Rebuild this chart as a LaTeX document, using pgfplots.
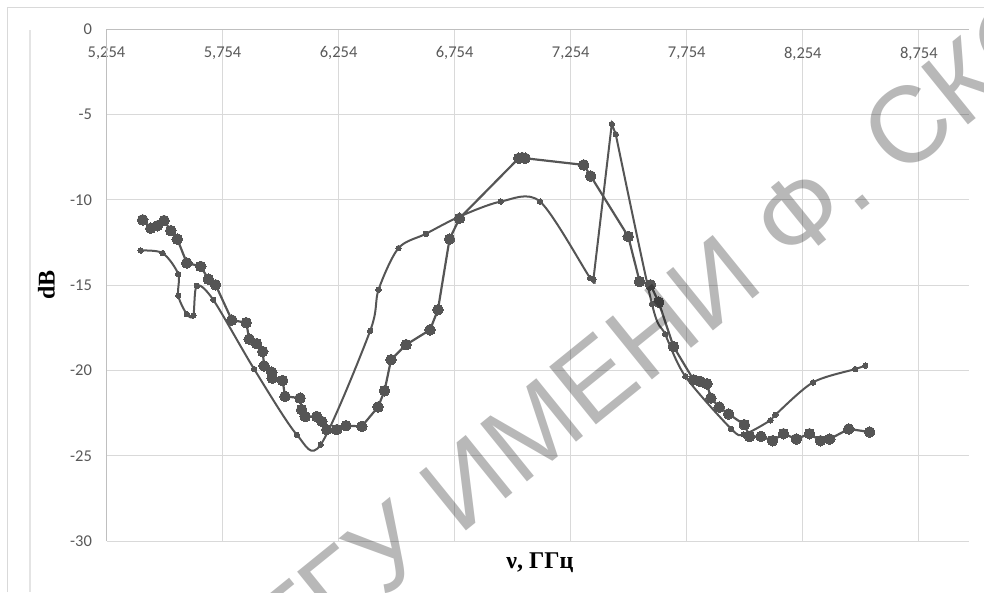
\documentclass[border=0pt]{standalone}
\usepackage{pgfplots}
\pgfplotsset{compat=1.18}
\usepackage{fontspec}
\setmainfont{Carlito}
\newfontfamily\serifb{Liberation Serif}
\newfontfamily\wmfont{Liberation Sans}
\definecolor{ser}{HTML}{555555}
\definecolor{gridc}{HTML}{D9D9D9}
\definecolor{tickc}{HTML}{595959}
\definecolor{axc}{HTML}{BFBFBF}

\begin{document}
\begin{tikzpicture}[x=1pt,y=1pt]
\useasboundingbox (0,0) rectangle (984,592);
\draw[color=gridc, line width=1pt] (7,0) -- (7,584) -- (990,584);
\draw[color=gridc!70, line width=1.5pt] (30,562) -- (30,0);
\begin{axis}[
  at={(106.5pt,51pt)}, anchor=south west,
  width=862pt, height=511.7pt, scale only axis,
  xmin=5.254, xmax=8.968, ymin=-30, ymax=0,
  axis line style={draw=none},
  major tick length=0pt,
  grid=major,
  major grid style={color=gridc, line width=1pt},
  xtick={5.254,5.754,6.254,6.754,7.254,7.754,8.254,8.754},
  xticklabels={{5,254},{5,754},{6,254},{6,754},{7,254},{7,754},{8,254},{8,754}},
  ytick={-30,-25,-20,-15,-10,-5,0},
  yticklabels={-30,-25,-20,-15,-10,-5,0},
  xticklabel pos=upper,
  xticklabel style={anchor=north, yshift=-14pt, font=\fontsize{16.5}{18}\selectfont, text=tickc},
  yticklabel style={anchor=east, xshift=-11pt, font=\fontsize{16.5}{18}\selectfont, text=tickc},
  clip=false,
]
\addplot[color=ser, line width=2.2pt, mark=*, mark size=5.3pt, mark options={fill=ser, draw=ser, line width=0pt}] coordinates {
(5.410,-11.17) (5.445,-11.66) (5.473,-11.52) (5.502,-11.21) (5.531,-11.80) (5.559,-12.30)
(5.600,-13.70) (5.660,-13.90) (5.693,-14.65) (5.724,-14.98) (5.794,-17.05) (5.856,-17.20)
(5.869,-18.16) (5.901,-18.43) (5.927,-18.89) (5.933,-19.73) (5.966,-20.10) (5.968,-20.45)
(6.013,-20.59) (6.023,-21.52) (6.088,-21.62) (6.095,-22.30) (6.110,-22.70) (6.160,-22.70)
(6.182,-22.99) (6.203,-23.47) (6.246,-23.47) (6.286,-23.24) (6.354,-23.28) (6.424,-22.14)
(6.452,-21.19) (6.480,-19.37) (6.545,-18.49) (6.648,-17.62) (6.682,-16.44) (6.732,-12.30)
(6.775,-11.08) (7.030,-7.56) (7.045,-7.52) (7.058,-7.56) (7.310,-7.95) (7.340,-8.60)
(7.502,-12.15) (7.551,-14.79) (7.598,-14.98) (7.633,-16.00) (7.697,-18.60) (7.783,-20.55)
(7.812,-20.64) (7.841,-20.78) (7.858,-21.62) (7.894,-22.15) (7.934,-22.55) (8.002,-23.18)
(8.025,-23.87) (8.074,-23.87) (8.124,-24.12) (8.171,-23.71) (8.226,-24.02) (8.283,-23.71)
(8.330,-24.12) (8.370,-24.02) (8.452,-23.43) (8.542,-23.61)
};
\addplot[color=ser, line width=2pt, smooth, mark=*, mark size=2.7pt, mark options={fill=ser, draw=ser, line width=0pt}] coordinates {
(5.401,-12.97) (5.496,-13.12) (5.563,-14.35) (5.563,-15.62) (5.600,-16.70) (5.628,-16.78)
(5.643,-15.04) (5.714,-15.86) (5.890,-19.92) (6.074,-23.77) (6.177,-24.35) (6.390,-17.68)
(6.426,-15.27) (6.512,-12.83) (6.630,-11.99) (6.775,-10.98) (6.953,-10.10) (7.122,-10.10)
(7.338,-14.59) (7.352,-14.65)
};
\addplot[color=ser, line width=2pt, mark=*, mark size=2.7pt, mark options={fill=ser, draw=ser, line width=0pt}] coordinates {
(7.352,-14.65) (7.431,-5.55) (7.448,-6.15)
};
\addplot[color=ser, line width=2pt, smooth, mark=*, mark size=2.7pt, mark options={fill=ser, draw=ser, line width=0pt}] coordinates {
(7.448,-6.15) (7.604,-16.10) (7.661,-17.88)
(7.748,-20.35) (7.945,-23.42) (8.000,-23.75) (8.114,-22.93) (8.136,-22.60) (8.298,-20.70) (8.480,-19.92)
(8.523,-19.72)
};
\draw[color=axc, line width=1pt] (axis cs:5.254,-30) -- (axis cs:5.254,0) -- (axis cs:8.968,0);
\end{axis}
\node[font=\serifb\bfseries\fontsize{24}{26}\selectfont, rotate=90] at (46.5,307) {dB};
\node[font=\serifb\bfseries\fontsize{24}{26}\selectfont] at (540,29) {ν, ГГц};
\begin{scope}
\clip (0,0) rectangle (984,592);
\node[rotate=39, anchor=base west, inner sep=0pt, font=\wmfont\fontsize{108}{108}\selectfont, text=black, opacity=0.28] at (292,-80) {ГГУ ИМЕНИ Ф. СКОРИНЫ};
\end{scope}
\end{tikzpicture}
\end{document}
